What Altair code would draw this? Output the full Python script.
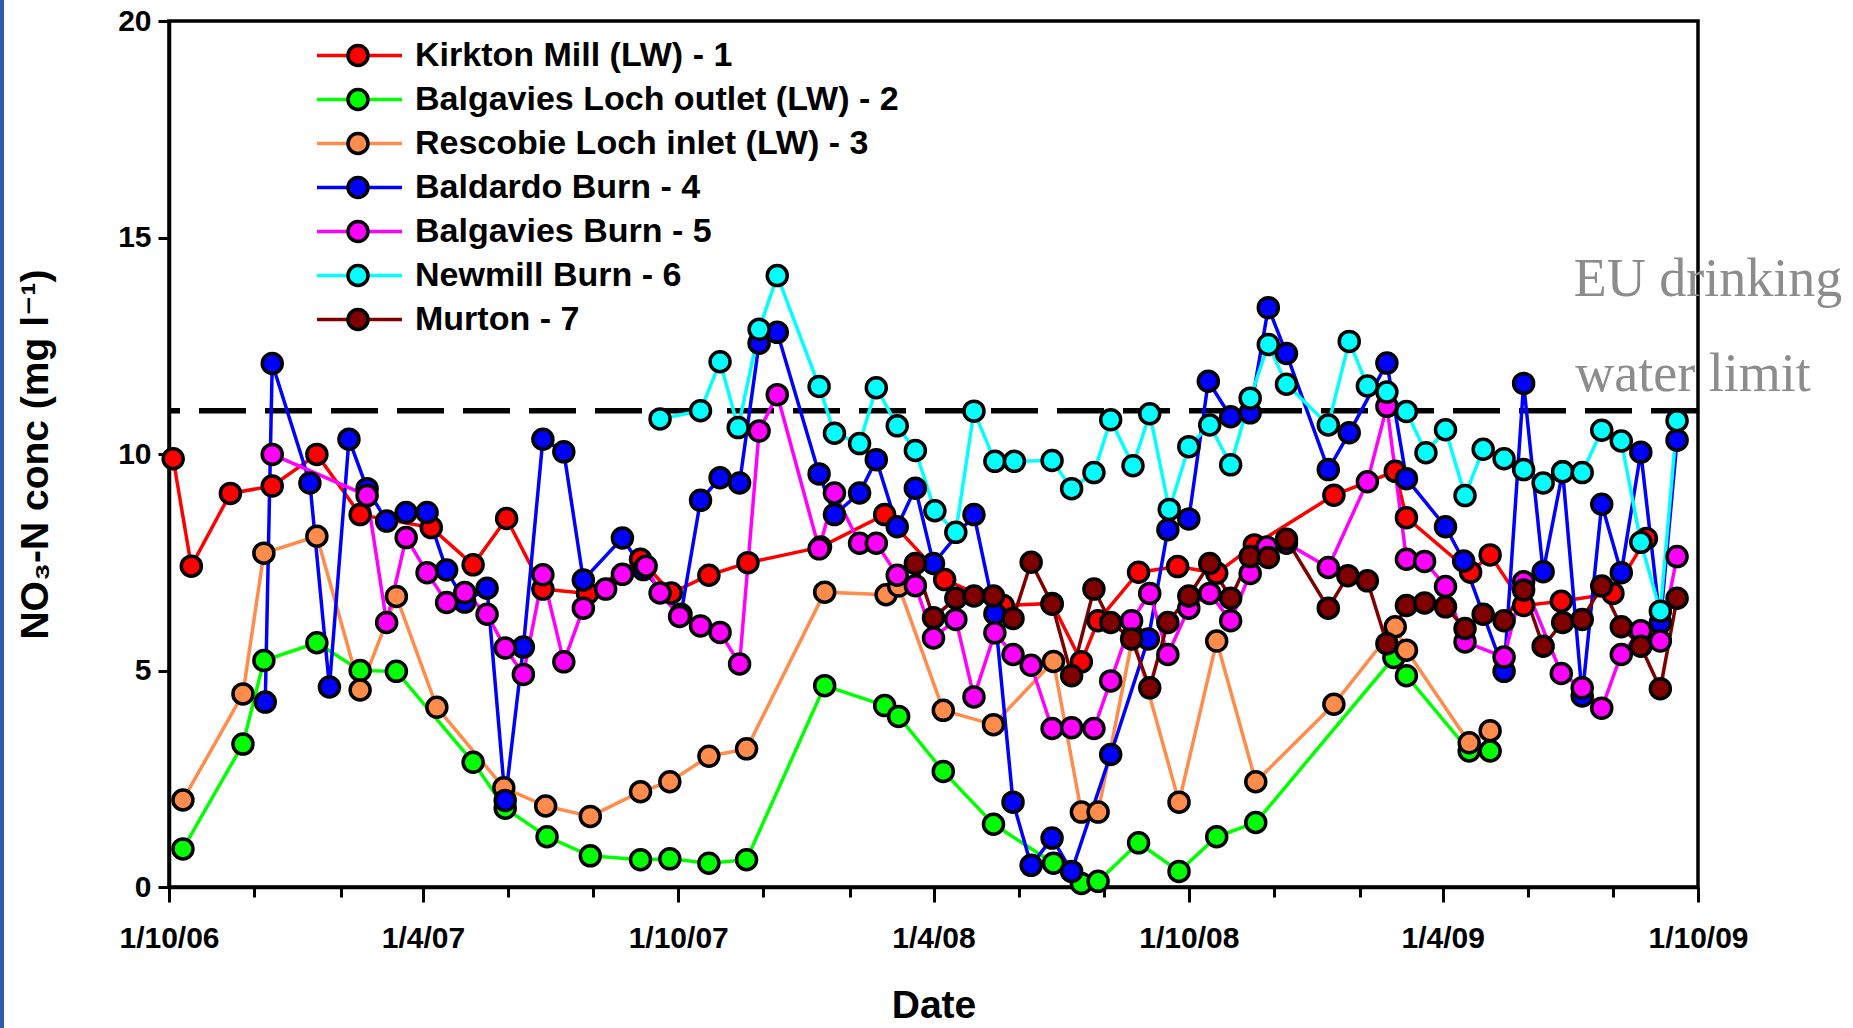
import altair as alt
import pandas as pd

# ---------------- data (days after 1 Oct 2006, NO3-N mg/l) ----------------
START = pd.Timestamp("2006-10-01")

series_names = ["Kirkton Mill (LW) - 1", "Balgavies Loch outlet (LW) - 2",
                "Rescobie Loch inlet (LW) - 3", "Baldardo Burn - 4",
                "Balgavies Burn - 5", "Newmill Burn - 6", "Murton - 7"]
series_colors = ["#FF0000", "#00FF00", "#FF8C4B", "#0000FF", "#FF00FF", "#00FFFF", "#800000"]

kirkton_days = [3, 16, 44, 74, 106, 137, 188, 218, 242, 268, 300, 338, 360, 387, 415, 467, 513,
                556, 598, 633, 654, 666, 695, 723, 751, 778, 835, 879, 887, 933, 947, 971, 998, 1035, 1059]
kirkton_no3 = [9.89, 7.41, 9.09, 9.26, 9.99, 8.6, 8.3, 7.44, 8.51, 6.88, 6.78, 7.57, 6.79, 7.2, 7.49, 7.85, 8.6,
               7.1, 6.5, 6.55, 5.2, 6.15, 7.27, 7.4, 7.25, 7.9, 9.05, 9.6, 8.53, 7.27, 7.67, 6.5, 6.6, 6.78, 8.05]

balgavies_loch_days = [10, 53, 68, 106, 137, 163, 218, 241, 271, 302, 338, 359, 387, 414, 470, 513, 523,
                       555, 591, 634, 654, 666, 695, 724, 751, 779, 878, 887, 932, 947]
balgavies_loch_no3 = [0.88, 3.3, 5.23, 5.64, 5.0, 4.98, 2.88, 1.82, 1.16, 0.72, 0.63, 0.65, 0.55, 0.63, 4.65, 4.19, 3.94,
                      2.67, 1.45, 0.55, 0.08, 0.13, 1.02, 0.36, 1.16, 1.49, 5.3, 4.88, 3.14, 3.14]

rescobie_days = [10, 53, 68, 106, 137, 163, 192, 240, 270, 302, 338, 359, 387, 414, 470, 514, 523, 555,
                 591, 634, 654, 666, 691, 724, 751, 779, 835, 879, 887, 932, 947]
rescobie_no3 = [2.01, 4.46, 7.71, 8.1, 4.55, 6.71, 4.15, 2.29, 1.87, 1.63, 2.2, 2.43, 3.02, 3.19, 6.81, 6.75, 6.95, 4.08,
                3.75, 5.21, 1.73, 1.73, 5.8, 1.96, 5.68, 2.43, 4.22, 6.01, 5.47, 3.33, 3.61]

baldardo_days = [69, 74, 101, 115, 129, 142, 156, 170, 185, 199, 212, 228, 241, 254, 268, 283, 297, 325, 340, 367,
                 381, 395, 409, 423, 436, 466, 477, 495, 507, 522, 535, 548, 577, 592, 605, 618, 633, 647, 675, 702,
                 716, 731, 745, 761, 775, 788, 801, 831, 846, 873, 887, 915, 928, 957, 971, 985, 999, 1013, 1027, 1041,
                 1055, 1069, 1081]
baldardo_no3 = [4.27, 12.09, 9.33, 4.62, 10.34, 9.2, 8.45, 8.65, 8.65, 7.32, 6.58, 6.9, 2.0, 5.54, 10.34, 10.05, 7.09, 8.06, 7.33, 6.3,
                8.93, 9.45, 9.33, 12.56, 12.81, 9.54, 8.6, 9.1, 9.87, 8.32, 9.21, 7.47, 8.6, 6.31, 1.96, 0.5, 1.13, 0.36, 3.06, 5.73,
                8.25, 8.5, 11.68, 10.86, 10.95, 13.38, 12.32, 9.64, 10.49, 12.1, 9.43, 8.32, 7.53, 4.98, 11.63, 7.28, 9.59, 4.41, 8.84, 7.26,
                10.04, 6.1, 10.32]

balgavies_burn_days = [74, 142, 156, 170, 185, 199, 212, 228, 241, 254, 268, 283, 297, 313, 325, 342, 352, 366, 381, 395,
                       409, 423, 436, 466, 477, 495, 507, 522, 535, 548, 564, 577, 592, 605, 618, 633, 647, 663, 675, 690,
                       703, 716, 731, 746, 761, 775, 787, 801, 831, 859, 873, 887, 900, 915, 929, 957, 971, 998, 1013, 1027,
                       1041, 1055, 1069, 1081]
balgavies_burn_no3 = [9.99, 9.04, 6.11, 8.07, 7.26, 6.57, 6.8, 6.3, 5.52, 4.91, 7.21, 5.2, 6.44, 6.88, 7.22, 7.41, 6.79, 6.25, 6.03, 5.88,
                      5.15, 10.53, 11.37, 7.81, 9.1, 7.94, 7.94, 7.2, 6.96, 5.75, 6.18, 4.39, 5.87, 5.37, 5.12, 3.66, 3.68, 3.66, 4.76, 6.15,
                      6.78, 5.37, 6.44, 6.78, 6.15, 7.24, 7.85, 7.94, 7.38, 9.36, 11.1, 7.57, 7.52, 6.94, 5.66, 5.31, 7.05, 4.93, 4.6, 4.13,
                      5.37, 5.92, 5.68, 7.63]

newmill_days = [352, 381, 395, 408, 423, 436, 466, 477, 495, 507, 522, 535, 549, 564, 577, 592, 606, 633, 647, 663,
                675, 691, 703, 717, 731, 746, 761, 775, 788, 801, 831, 846, 859, 873, 887, 901, 915, 929, 942, 957,
                971, 985, 999, 1013, 1027, 1041, 1055, 1069, 1081]
newmill_no3 = [10.81, 11.0, 12.13, 10.61, 12.88, 14.12, 11.56, 10.48, 10.24, 11.53, 10.65, 10.08, 8.69, 8.19, 10.99, 9.83, 9.83, 9.85, 9.2, 9.57,
               10.79, 9.73, 10.93, 8.72, 10.17, 10.67, 9.75, 11.29, 12.53, 11.61, 10.67, 12.6, 11.57, 11.43, 10.98, 10.03, 10.56, 9.04, 10.11, 9.89,
               9.64, 9.33, 9.59, 9.57, 10.55, 10.3, 7.96, 6.37, 10.77]

murton_days = [535, 548, 564, 577, 591, 605, 618, 633, 647, 663, 675, 690, 703, 716, 731, 746, 761, 775, 788, 801,
               831, 845, 859, 873, 887, 900, 915, 929, 942, 957, 971, 985, 999, 1013, 1027, 1041, 1055, 1069, 1081]
murton_no3 = [7.47, 6.22, 6.67, 6.72, 6.72, 6.2, 7.5, 6.53, 4.88, 6.88, 6.11, 5.73, 4.6, 6.11, 6.72, 7.47, 6.67, 7.63, 7.61, 8.03,
              6.44, 7.19, 7.07, 5.62, 6.5, 6.56, 6.47, 5.97, 6.3, 6.15, 6.86, 5.56, 6.11, 6.18, 6.95, 6.01, 5.56, 4.58, 6.67]

eu_limit = [11.0]
annotation_lines = ["EU drinking", "water limit"]
annotation_days = [1007, 1008]
annotation_values = [14.03, 11.83]

tick_dates = ["2006-10-01", "2006-12-01", "2007-02-01", "2007-04-01", "2007-06-01", "2007-08-01",
              "2007-10-01", "2007-12-01", "2008-02-01", "2008-04-01", "2008-06-01", "2008-08-01",
              "2008-10-01", "2008-12-01", "2009-02-01", "2009-04-01", "2009-06-01", "2009-08-01", "2009-10-01"]

# ---------------- build tables ----------------
all_days = [kirkton_days, balgavies_loch_days, rescobie_days, baldardo_days,
            balgavies_burn_days, newmill_days, murton_days]
all_vals = [kirkton_no3, balgavies_loch_no3, rescobie_no3, baldardo_no3,
            balgavies_burn_no3, newmill_no3, murton_no3]


def to_date(d):
    return (START + pd.Timedelta(days=d)).strftime("%Y-%m-%d")


rows = []
for k, (name, ds, vs) in enumerate(zip(series_names, all_days, all_vals)):
    for d, v in zip(ds, vs):
        rows.append({"series": name, "order": k, "date": to_date(d), "value": v})
df = pd.DataFrame(rows)

limit_df = pd.DataFrame({"value": eu_limit})
ann_df = pd.DataFrame({"label": annotation_lines,
                       "date": [to_date(d) for d in annotation_days],
                       "value": annotation_values})
legend_df = pd.DataFrame({"series": series_names})

tick_ms = [int(pd.Timestamp(t, tz="UTC").timestamp() * 1000) for t in tick_dates]

FONT = "Liberation Sans, Arial, DejaVu Sans"
major_test = "utcmonth(datum.value) == 3 || utcmonth(datum.value) == 9"

x_scale = alt.Scale(type="utc",
                    domain=[alt.DateTime(year=2006, month=10, date=1, utc=True),
                            alt.DateTime(year=2009, month=10, date=1, utc=True)])
y_scale = alt.Scale(domain=[0, 20], nice=False, zero=True)

color_scale = alt.Scale(domain=series_names, range=series_colors)

x_enc = alt.X("date:T", scale=x_scale, axis=alt.Axis(
    values=tick_ms,
    labelExpr=f"({major_test}) ? utcFormat(datum.value, '%-d/%-m/%y') : ''",
    tickSize={"condition": {"test": major_test, "value": 15}, "value": 10},
    labelFlush=False, labelOverlap=False, labelBound=False,
    labelPadding=21, title="Date", titlePadding=33, grid=False))
y_enc = alt.Y("value:Q", scale=y_scale, axis=alt.Axis(
    values=[0, 5, 10, 15, 20], tickSize=11, labelPadding=7,
    title="NO\u2083-N conc (mg l\u207b\u00b9)", titlePadding=62, grid=False))

base = alt.Chart(df)

limit = alt.Chart(limit_df).mark_rule(color="black", strokeWidth=5.5, strokeDash=[47, 19]).encode(
    y=alt.Y("value:Q", scale=y_scale))

lines = base.mark_line(strokeWidth=3.5).encode(
    x=x_enc, y=y_enc,
    color=alt.Color("series:N", scale=color_scale, legend=None),
    detail="series:N")

points = base.mark_circle(size=400, stroke="black", strokeWidth=3.5, opacity=1).encode(
    x="date:T", y="value:Q",
    fill=alt.Fill("series:N", scale=color_scale, legend=None),
    order=alt.Order("order:Q"))

annotation = alt.Chart(ann_df).mark_text(
    align="left", baseline="middle", font="Liberation Serif", fontSize=54, color="#8c8c8c").encode(
    x="date:T", y="value:Q", text="label:N")

main = alt.layer(limit, lines, points, annotation)

# ---------------- manual legend (line + circle + label) ----------------
row_y = alt.Y("series:N", axis=None, sort=series_names,
              scale=alt.Scale(type="point", domain=series_names, range=[34.5, 298.5], padding=0))
leg = alt.Chart(legend_df)
leg_line = leg.mark_rule(strokeWidth=3.5).encode(
    x=alt.value(148), x2=alt.value(233), y=row_y,
    color=alt.Color("series:N", scale=color_scale, legend=None))
leg_dot = leg.mark_circle(size=400, stroke="black", strokeWidth=3.5, opacity=1).encode(
    x=alt.value(189), y=row_y,
    fill=alt.Fill("series:N", scale=color_scale, legend=None))
leg_text = leg.mark_text(align="left", baseline="middle", font=FONT, fontWeight="bold",
                         fontSize=34, color="black").encode(
    x=alt.value(246), y=row_y, text="series:N")
border = leg.mark_rule(color="#2a5db0", strokeWidth=3.5).encode(
    x=alt.value(-167.2), y=alt.value(-21), y2=alt.value(1007))

legend = alt.layer(leg_line, leg_dot, leg_text, border)

chart = alt.layer(main, legend).resolve_scale(y="independent").properties(
    width=1529, height=866,
    autosize=alt.AutoSizeParams(type="none"),
    padding={"left": 169, "top": 21, "right": 155, "bottom": 141},
    background="white",
).configure_view(stroke="black", strokeWidth=3.5).configure_axis(
    domainColor="black", domainWidth=3.5, tickColor="black", tickWidth=3,
    labelFont=FONT, labelFontWeight="bold", labelFontSize=30, labelColor="black",
    titleFont=FONT, titleFontWeight="bold", titleFontSize=39, titleColor="black")

chart.save("out.html", embed_options={"renderer": "svg", "actions": False})
